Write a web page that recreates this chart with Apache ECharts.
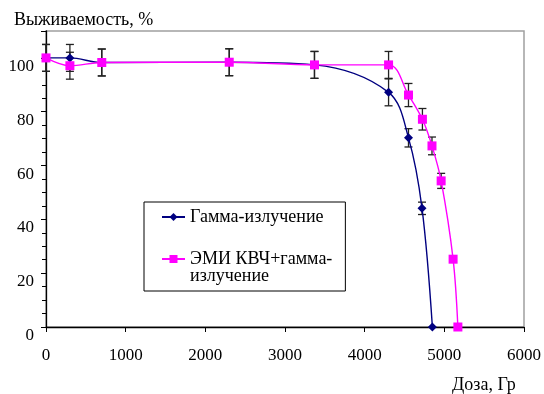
<!DOCTYPE html>
<html>
<head>
<meta charset="utf-8">
<script src="https://cdn.jsdelivr.net/npm/echarts@6/dist/echarts.min.js"></script>
<style>
  html, body { margin: 0; padding: 0; background: #fff; }
  #chart { width: 544px; height: 394px; }
</style>
</head>
<body>
<div id="chart"></div>
<script>
  // Гамма-излучение
  const gammaDose = [0, 300, 700, 2300, 3370, 4300, 4550, 4720, 4850];
  const gammaSurv = [100, 100, 98.3, 98.4, 97.4, 87.2, 70.3, 44.1, 0];
  const gammaErr = [5, 5, 5, 5, 5, 5, 3.4, 2.3, 0];

  // ЭМИ КВЧ+гамма-излучение
  const emiDose = [0, 300, 700, 2300, 3370, 4300, 4550, 4725, 4845, 4960, 5110, 5170];
  const emiSurv = [100, 97.1, 98.3, 98.4, 97.4, 97.4, 86.2, 77.2, 67.3, 54.3, 25.2, 0];
  const emiErr = [5, 5, 5, 5, 5, 5, 4.3, 4, 3.3, 2.8, 0, 0];

  const seriesNames = ['Гамма-излучение', 'ЭМИ КВЧ+гамма-излучение'];
  const FONT = "'Times New Roman', 'Liberation Serif', 'DejaVu Serif', serif";

  function pairs(xs, ys) {
    return xs.map((x, i) => [x, ys[i]]);
  }
  function errPairs(xs, ys, es) {
    return xs.map((x, i) => [x, ys[i], es[i]]);
  }

  // error bars drawn via axis coords
  function renderErr(params, api) {
    const e = api.value(2);
    if (!e) return;
    const x = api.value(0), y = api.value(1);
    const hi = api.coord([x, y + e]);
    const lo = api.coord([x, y - e]);
    const cap = 4;
    const style = { stroke: '#222', lineWidth: 1.3 };
    return {
      type: 'group',
      children: [
        { type: 'line', shape: { x1: hi[0], y1: hi[1], x2: lo[0], y2: lo[1] }, style },
        { type: 'line', shape: { x1: hi[0] - cap, y1: hi[1], x2: hi[0] + cap, y2: hi[1] }, style },
        { type: 'line', shape: { x1: lo[0] - cap, y1: lo[1], x2: lo[0] + cap, y2: lo[1] }, style }
      ]
    };
  }

  const chart = echarts.init(document.getElementById('chart'));
  chart.setOption({
    animation: false,
    backgroundColor: '#fff',
    textStyle: { fontFamily: FONT },
    title: [
      { text: 'Выживаемость, %', left: 9, top: 6,
        textStyle: { fontFamily: FONT, fontSize: 18, fontWeight: 'normal', color: '#000' } },
      { text: 'Доза, Гр', left: 447, top: 371,
        textStyle: { fontFamily: FONT, fontSize: 18, fontWeight: 'normal', color: '#000' } }
    ],
    grid: {
      left: 46, right: 19, top: 31, bottom: 67,
      show: true, borderColor: '#a0a0a0', borderWidth: 1.5
    },
    legend: {
      orient: 'vertical',
      left: 144, top: 202,
      padding: [6, 13, 6, 17],
      itemGap: 7,
      itemWidth: 23,
      itemHeight: 10,
      borderColor: '#000',
      borderWidth: 1,
      backgroundColor: '#fff',
      data: seriesNames,
      formatter: function (name) {
        return name === seriesNames[1] ? '\nЭМИ КВЧ+гамма-\nизлучение' : name;
      },
      textStyle: { fontFamily: FONT, fontSize: 18, color: '#000', lineHeight: 17 }
    },
    xAxis: {
      type: 'value',
      min: 0, max: 6000, interval: 1000,
      axisLine: { lineStyle: { color: '#000', width: 1.3 } },
      axisTick: { length: 5, lineStyle: { color: '#000' } },
      axisLabel: { color: '#000', fontFamily: FONT, fontSize: 17, margin: 20,
        formatter: v => String(v) },
      splitLine: { show: false }
    },
    yAxis: {
      type: 'value',
      min: 0, max: 110, interval: 20,
      axisLine: { show: true, lineStyle: { color: '#000', width: 1.3 } },
      axisTick: { show: true, length: 5, lineStyle: { color: '#000' } },
      minorTick: { show: true, splitNumber: 4, length: 4, lineStyle: { color: '#000' } },
      axisLabel: { color: '#000', fontFamily: FONT, fontSize: 17, margin: 12,
        verticalAlign: 'top', showMaxLabel: false },
      splitLine: { show: false }
    },
    series: [
      {
        type: 'custom', name: 'errG', renderItem: renderErr, z: 1,
        data: errPairs(gammaDose, gammaSurv, gammaErr), encode: { x: 0, y: 1 }
      },
      {
        type: 'custom', name: 'errE', renderItem: renderErr, z: 1,
        data: errPairs(emiDose, emiSurv, emiErr), encode: { x: 0, y: 1 }
      },
      {
        name: seriesNames[0], type: 'line', z: 3,
        data: pairs(gammaDose, gammaSurv),
        smooth: 0.35,
        symbol: 'diamond', symbolSize: 9,
        lineStyle: { color: '#000080', width: 1.4 },
        itemStyle: { color: '#000080' }
      },
      {
        name: seriesNames[1], type: 'line', z: 4,
        data: pairs(emiDose, emiSurv),
        smooth: 0.35,
        symbol: 'rect', symbolSize: 9,
        lineStyle: { color: '#ff00ff', width: 1.4 },
        itemStyle: { color: '#ff00ff' }
      }
    ]
  });
</script>
</body>
</html>
